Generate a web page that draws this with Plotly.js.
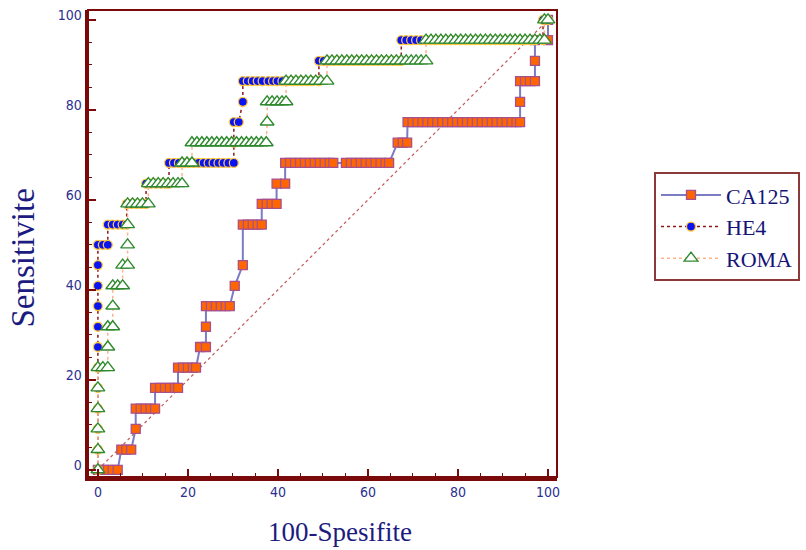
<!DOCTYPE html>
<html>
<head>
<meta charset="utf-8">
<script src="https://cdn.plot.ly/plotly-3.0.1.min.js"></script>
<style>
html,body{margin:0;padding:0;background:#fff;}
#chart{width:806px;height:550px;}
</style>
</head>
<body>
<div id="chart"></div>
<script>
// ROC data (x = 100-Spesifite, y = Sensitivite)
const seriesNames = ["CA125", "HE4", "ROMA"];

const ca125X = [0, 1.1, 2.2, 3.3, 4.4,
  5.2, 6.3, 7.4,
  8.4,
  8.4, 9.5, 10.6, 11.7, 12.7,
  12.7, 13.8, 14.9, 16.0, 17.1, 17.8,
  17.8, 18.9, 20.0, 21.1, 21.8,
  22.7, 24.0,
  24.0,
  24.0, 25.1, 26.2, 27.3, 28.4, 29.3,
  30.4,
  32.2,
  32.2, 33.3, 34.4, 35.5, 36.4,
  36.4, 37.5, 38.6, 39.7,
  39.7, 41.6,
  41.6, 42.7, 43.8, 44.9, 46.0, 47.1, 48.2, 49.3, 50.4, 51.5, 52.3, 55.1, 56.2, 57.3, 58.4, 59.5, 60.6, 61.7, 62.8, 63.9, 64.7,
  66.6, 67.7, 68.7,
  68.8, 69.9, 71.0, 72.1, 73.2, 74.3, 75.4, 76.5, 77.6, 78.7, 79.8, 80.9, 82.0, 83.1, 84.2, 85.3, 86.4, 87.5, 88.6, 89.7, 90.8, 91.9, 93.0, 93.8,
  93.8,
  93.8, 94.9, 96.0, 97.1,
  97.1,
  97.1, 100,
  100];
const ca125Y = [0, 0, 0, 0, 0,
  4.5, 4.5, 4.5,
  9.1,
  13.6, 13.6, 13.6, 13.6, 13.6,
  18.2, 18.2, 18.2, 18.2, 18.2, 18.2,
  22.7, 22.7, 22.7, 22.7, 22.7,
  27.3, 27.3,
  31.8,
  36.4, 36.4, 36.4, 36.4, 36.4, 36.4,
  40.9,
  45.5,
  54.5, 54.5, 54.5, 54.5, 54.5,
  59.1, 59.1, 59.1, 59.1,
  63.6, 63.6,
  68.2, 68.2, 68.2, 68.2, 68.2, 68.2, 68.2, 68.2, 68.2, 68.2, 68.2, 68.2, 68.2, 68.2, 68.2, 68.2, 68.2, 68.2, 68.2, 68.2, 68.2,
  72.7, 72.7, 72.7,
  77.3, 77.3, 77.3, 77.3, 77.3, 77.3, 77.3, 77.3, 77.3, 77.3, 77.3, 77.3, 77.3, 77.3, 77.3, 77.3, 77.3, 77.3, 77.3, 77.3, 77.3, 77.3, 77.3, 77.3,
  81.8,
  86.4, 86.4, 86.4, 86.4,
  90.9,
  95.5, 95.5,
  100];

const he4X = [0, 0, 0, 0, 0, 0, 0, 0, 0, 0, 0, 0, 1.1, 2.2,
  2.2, 3.3, 4.4, 5.5, 6.4,
  6.4, 7.5, 8.6, 9.7, 10.7,
  10.7, 11.8, 12.9, 14.0, 15.1, 15.8,
  15.8, 16.9, 18.0, 19.1, 20.2, 21.3, 22.4, 23.5, 24.6, 25.7, 26.8, 27.9, 29.0, 30.2,
  30.2,
  30.2, 31.3,
  32.2,
  32.2, 33.3, 34.4, 35.5, 36.6, 37.9, 38.9, 39.9, 41.0, 42.1, 43.2, 44.3, 45.4, 46.5, 47.6, 49.1,
  49.1, 50.2, 51.3, 52.4, 53.5, 54.6, 55.7, 56.8, 57.9, 59.0, 60.1, 61.2, 62.3, 63.4, 64.5, 65.6, 66.7, 67.4,
  67.4, 68.5, 69.6, 70.7, 71.8, 72.9, 74.0, 75.1, 76.2, 77.3, 78.4, 79.5, 80.6, 81.7, 82.8, 83.9, 85.0, 86.1, 87.2, 88.3, 89.4, 90.5, 91.6, 92.7, 93.8, 94.9, 96.0, 97.1, 98.9,
  98.9, 100];
const he4Y = [0, 4.5, 9.1, 13.6, 18.2, 22.7, 27.3, 31.8, 36.4, 40.9, 45.5, 50, 50, 50,
  54.5, 54.5, 54.5, 54.5, 54.5,
  59.1, 59.1, 59.1, 59.1, 59.1,
  63.6, 63.6, 63.6, 63.6, 63.6, 63.6,
  68.2, 68.2, 68.2, 68.2, 68.2, 68.2, 68.2, 68.2, 68.2, 68.2, 68.2, 68.2, 68.2, 68.2,
  72.7,
  77.3, 77.3,
  81.8,
  86.4, 86.4, 86.4, 86.4, 86.4, 86.4, 86.4, 86.4, 86.4, 86.4, 86.4, 86.4, 86.4, 86.4, 86.4, 86.4,
  90.9, 90.9, 90.9, 90.9, 90.9, 90.9, 90.9, 90.9, 90.9, 90.9, 90.9, 90.9, 90.9, 90.9, 90.9, 90.9, 90.9, 90.9,
  95.5, 95.5, 95.5, 95.5, 95.5, 95.5, 95.5, 95.5, 95.5, 95.5, 95.5, 95.5, 95.5, 95.5, 95.5, 95.5, 95.5, 95.5, 95.5, 95.5, 95.5, 95.5, 95.5, 95.5, 95.5, 95.5, 95.5, 95.5, 95.5,
  100, 100];

const romaX = [0, 0, 0, 0, 0, 0, 1.1, 2.2,
  2.2,
  2.2, 3.3,
  3.3,
  3.3, 4.4, 5.5,
  5.5, 6.6,
  6.6,
  6.6,
  6.6, 7.7, 8.8, 9.9, 11.2,
  11.2, 12.3, 13.4, 14.5, 15.6, 16.7, 17.8, 18.7,
  18.7, 19.8, 20.9,
  20.9, 22.0, 23.1, 24.2, 25.3, 26.4, 27.5, 28.6, 29.7, 30.8, 31.9, 33.0, 34.1, 35.2, 36.3, 37.4,
  37.6,
  37.6, 38.7, 39.8, 40.9, 41.8,
  41.8, 42.9, 44.0, 45.1, 46.2, 47.3, 48.4, 49.5, 50.9,
  50.9, 52.0, 53.1, 54.2, 55.3, 56.4, 57.5, 58.6, 59.7, 60.8, 61.9, 63.0, 64.1, 65.2, 66.3, 67.4, 68.5, 69.6, 70.7, 71.8, 72.9,
  72.9, 74.0, 75.1, 76.2, 77.3, 78.4, 79.5, 80.6, 81.7, 82.8, 83.9, 85.0, 86.1, 87.2, 88.3, 89.4, 90.5, 91.6, 92.7, 93.8, 94.9, 96.0, 97.1, 98.2, 99.2,
  99.2, 100];
const romaY = [0, 4.5, 9.1, 13.6, 18.2, 22.7, 22.7, 22.7,
  27.3,
  31.8, 31.8,
  36.4,
  40.9, 40.9, 40.9,
  45.5, 45.5,
  50,
  54.5,
  59.1, 59.1, 59.1, 59.1, 59.1,
  63.6, 63.6, 63.6, 63.6, 63.6, 63.6, 63.6, 63.6,
  68.2, 68.2, 68.2,
  72.7, 72.7, 72.7, 72.7, 72.7, 72.7, 72.7, 72.7, 72.7, 72.7, 72.7, 72.7, 72.7, 72.7, 72.7, 72.7,
  77.3,
  81.8, 81.8, 81.8, 81.8, 81.8,
  86.4, 86.4, 86.4, 86.4, 86.4, 86.4, 86.4, 86.4, 86.4,
  90.9, 90.9, 90.9, 90.9, 90.9, 90.9, 90.9, 90.9, 90.9, 90.9, 90.9, 90.9, 90.9, 90.9, 90.9, 90.9, 90.9, 90.9, 90.9, 90.9, 90.9,
  95.5, 95.5, 95.5, 95.5, 95.5, 95.5, 95.5, 95.5, 95.5, 95.5, 95.5, 95.5, 95.5, 95.5, 95.5, 95.5, 95.5, 95.5, 95.5, 95.5, 95.5, 95.5, 95.5, 95.5, 95.5,
  100, 100];

const diagX = [0, 100];
const diagY = [0, 100];

const tickVals = [0, 20, 40, 60, 80, 100];
const tickText = ["0", "20", "40", "60", "80", "100"];
const xTitle = "100-Spesifite";
const yTitle = "Sensitivite";

const maroon = "#7a0a0a";
const navy = "#2b2f8f";
const titleNavy = "#1c1c80";
const serif = "Liberation Serif, Times New Roman, serif";

const traces = [
  {x: diagX, y: diagY, mode: "lines", showlegend: false, hoverinfo: "skip",
   line: {color: "#c05a5a", width: 1.2, dash: "dot"}},
  {name: seriesNames[0], x: ca125X, y: ca125Y, mode: "lines+markers",
   line: {color: "#7c7cc4", width: 2},
   marker: {symbol: "square", size: 9, color: "#ff6600", line: {color: "#a8508c", width: 1.3}}},
  {name: seriesNames[1], x: he4X, y: he4Y, mode: "lines+markers",
   line: {color: "#8b1a1a", width: 1.5, dash: "dot"},
   marker: {symbol: "circle", size: 9, color: "#0a14f0", line: {color: "#ffc83c", width: 1.3}}},
  {name: seriesNames[2], x: romaX, y: romaY, mode: "lines+markers",
   line: {color: "#ffb48c", width: 1.5, dash: "dot"},
   marker: {symbol: "triangle-up", size: 12, color: "#ffffff", line: {color: "#2f8a2f", width: 1.4}}}
];

const axisCommon = {
  tickmode: "array", tickvals: tickVals, ticktext: tickText,
  ticks: "inside", ticklen: 8, tickwidth: 2.5, tickcolor: maroon,
  minor: {dtick: 5, ticks: "inside", ticklen: 4, tickwidth: 1, tickcolor: maroon, showgrid: false},
  showline: true, linecolor: maroon, linewidth: 3.5, mirror: false,
  showgrid: false, zeroline: false, automargin: false,
  tickfont: {family: "DejaVu Sans Condensed, DejaVu Sans, sans-serif", size: 14, color: navy}
};

const layout = {
  width: 806, height: 550,
  margin: {l: 88, r: 249, t: 10, b: 73, autoexpand: false},
  paper_bgcolor: "#ffffff", plot_bgcolor: "#ffffff",
  showlegend: true,
  xaxis: Object.assign({}, axisCommon, {
    range: [-2.2, 102]
  }),
  yaxis: Object.assign({}, axisCommon, {
    range: [-1.6, 102.2],
    ticksuffix: "\u2002\u2009",
    ticklabelshift: -5
  }),
  annotations: [
    {text: xTitle, xref: "paper", yref: "paper", x: 0.538, y: -0.117,
     xanchor: "center", yanchor: "middle", showarrow: false,
     font: {family: serif, size: 27, color: titleNavy}},
    {text: yTitle, xref: "paper", yref: "paper", x: -0.1386, y: 0.47,
     xanchor: "center", yanchor: "middle", showarrow: false, textangle: -90,
     font: {family: serif, size: 33, color: titleNavy}}
  ],
  shapes: [
    {type: "rect", xref: "paper", yref: "paper", x0: 0, x1: 1, y0: 0, y1: 1,
     line: {color: maroon, width: 2}, fillcolor: "rgba(0,0,0,0)", layer: "above"}
  ],
  legend: {
    xref: "container", yref: "container",
    x: 0.8114, y: 0.687, xanchor: "left", yanchor: "top",
    bgcolor: "#ffffff", bordercolor: "#8b3a3a", borderwidth: 2,
    font: {family: serif, size: 22, color: "#141478"},
    itemwidth: 60, tracegroupgap: 0
  }
};

Plotly.newPlot("chart", traces, layout, {displayModeBar: false, staticPlot: true});
</script>
</body>
</html>
